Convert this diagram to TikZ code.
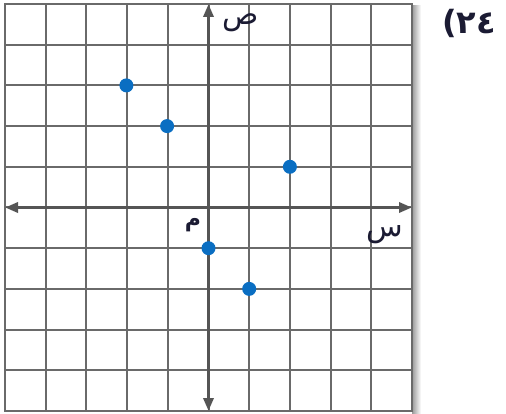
\documentclass[tikz,border=0pt]{standalone}
\usepackage{fontspec}
\newfontfamily\arabicfont[Script=Arabic]{DejaVu Sans}
\newfontfamily\plainsans{DejaVu Sans}
\TeXXeTstate=1
\usetikzlibrary{arrows.meta}
\definecolor{gridc}{HTML}{6A6A6A}
\definecolor{axisc}{HTML}{555555}
\definecolor{ptc}{HTML}{0A6EC2}
\definecolor{txtc}{HTML}{1B1B33}
\tikzset{
  gridline/.style={draw=gridc, line width=2pt},
  borderline/.style={draw=gridc, line width=2.6pt},
  axisline/.style={draw=axisc, line width=3.2pt, {Triangle[length=13pt,width=10pt]}-{Triangle[length=13pt,width=10pt]}},
  pt/.style={circle, fill=ptc, inner sep=0pt, minimum size=14pt},
  lbl/.style={text=txtc, inner sep=0pt, font=\arabicfont\fontsize{30}{30}\selectfont},
  olbl/.style={text=txtc, inner sep=0pt, font=\arabicfont\bfseries\fontsize{22}{22}\selectfont},
  numlbl/.style={text=txtc, inner sep=0pt, font=\bfseries\fontsize{32}{32}\selectfont}
}
\begin{document}
\begin{tikzpicture}[x=1pt,y=-1pt]
\useasboundingbox (0,0) rectangle (506,414);
\fill[white] (0,0) rectangle (506,414);
\shade[left color=black!40, right color=white] (412,6) rectangle (421,414);
\foreach \i in {1,...,9} {
  \draw[gridline] ({5+40.7*\i},4) -- ({5+40.7*\i},411);
  \draw[gridline] (5,{4+40.7*\i}) -- (412,{4+40.7*\i});
}
\draw[borderline] (5,4) rectangle (412,411);
\coordinate (yb) at (208.5,411);
\coordinate (yt) at (208.5,4);
\coordinate (xl) at (5,207.5);
\coordinate (xr) at (412,207.5);
\draw[axisline] (yb) -- (yt);
\draw[axisline] (xl) -- (xr);
\node[pt] (p1) at (126.4,85.4) {};
\node[pt] (p2) at (167.1,126.1) {};
\node[pt] (p3) at (289.9,166.8) {};
\node[pt] (p4) at (208.5,248.2) {};
\node[pt] (p5) at (249.2,288.9) {};
\node[lbl] (ylab) at (241,23) {\beginR ص\endR};
\node[lbl] (xlab) at (385,235) {\beginR س\endR};
\node[olbl] (olab) at (193,225) {\beginR م\endR};
\node[numlbl] (num) at (469,23) {{\plainsans (}{\arabicfont ٢٤}};
\end{tikzpicture}
\end{document}
